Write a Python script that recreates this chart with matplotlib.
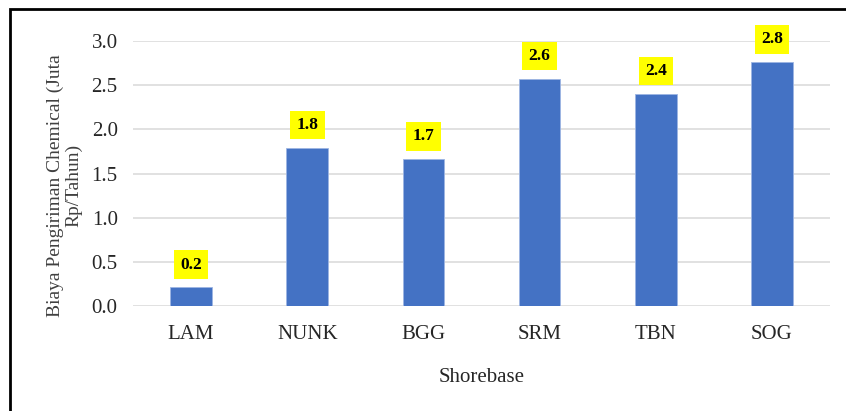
import matplotlib.pyplot as plt
from matplotlib.patches import Rectangle

shorebase = ['LAM', 'NUNK', 'BGG', 'SRM', 'TBN', 'SOG']
biaya = [0.21, 1.79, 1.66, 2.57, 2.40, 2.76]
y_ticks = [0.0, 0.5, 1.0, 1.5, 2.0, 2.5, 3.0]

plt.rcParams['font.family'] = ['Liberation Serif', 'DejaVu Serif']

fig = plt.figure(figsize=(8.46, 4.11), dpi=100)
ax = fig.add_axes([133 / 846, 1 - 306 / 411, 697 / 846, 265 / 411])

x = range(len(shorebase))
ax.bar(x, biaya, width=0.36, color='#4472C4', edgecolor='#9DB5E3',
       linewidth=0.6, zorder=3)

for i, v in zip(x, biaya):
    ax.annotate('%.1f' % v, (i, v), xytext=(0, 16.5), textcoords='offset points',
                ha='center', va='center', fontsize=12.5, fontweight='bold',
                bbox=dict(boxstyle='square,pad=0.36', fc='#FFFF00', ec='none'),
                zorder=4, annotation_clip=False)

ax.set_xlim(-0.5, len(shorebase) - 0.5)
ax.set_ylim(0, 3.0)
ax.set_yticks(y_ticks)
ax.set_yticklabels(['%.1f' % t for t in y_ticks])
ax.set_xticks(list(x))
ax.set_xticklabels(shorebase)
ax.tick_params(axis='both', length=0, labelsize=15, colors='#262626')
ax.tick_params(axis='y', pad=11)
ax.tick_params(axis='x', pad=14)
ax.grid(axis='y', color='#D9D9D9', linewidth=1.1, zorder=0)
for s in ax.spines.values():
    s.set_visible(False)

ax.set_xlabel('Shorebase', fontsize=15, color='#262626')
ax.xaxis.set_label_coords(0.5, -0.235)
ax.set_ylabel('Biaya Pengiriman Chemical (Juta\nRp/Tahun)', fontsize=14,
              color='#404040', linespacing=1.15)
ax.yaxis.set_label_coords(-0.072, 0.455)

# outer frame round the chart
fig.patches.append(Rectangle((9.5 / 846, -0.2), 1.2, 1.2 - 9.5 / 411,
                             transform=fig.transFigure, fill=False,
                             edgecolor='black', linewidth=2))

fig.savefig('out.png', dpi=100)
